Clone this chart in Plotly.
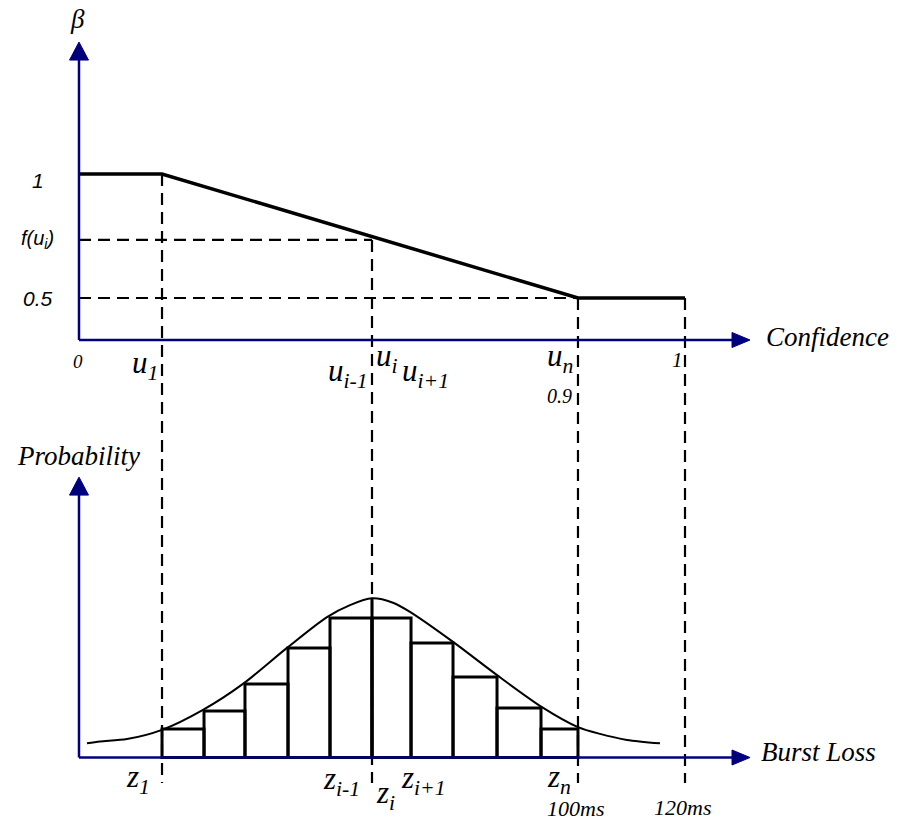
import plotly.graph_objects as go

# ---- data -------------------------------------------------------------
# marked confidence positions (normalised so that 0 .. 1 spans the axis)
u_1 = 0.137
u_i = 0.4835
u_n = 0.8234
conf_max = 1.0

# beta as a function of confidence: flat, linear drop, flat
beta_x = [0.0, u_1, u_n, conf_max]
beta_y = [1.0, 1.0, 0.5, 0.5]
beta_at_ui = 0.734

# histogram of burst loss (bin edges in the same normalised units)
bin_edges = [0.137, 0.2063, 0.2739, 0.3449, 0.4142, 0.4835,
             0.5479, 0.6172, 0.6898, 0.7624, 0.8234]
bin_heights = [0.071, 0.116, 0.184, 0.274, 0.349,
               0.349, 0.286, 0.201, 0.124, 0.071]

# bell-shaped probability envelope
curve_x = [0.0132, 0.0347, 0.0792, 0.137, 0.2046, 0.2706, 0.3432, 0.4092,
           0.4472, 0.4835, 0.5182, 0.5462, 0.6172, 0.6898, 0.764, 0.8234,
           0.8597, 0.9043, 0.9587]
curve_y = [0.0355, 0.040, 0.046, 0.069, 0.119, 0.184, 0.274, 0.351,
           0.381, 0.398, 0.387, 0.364, 0.289, 0.206, 0.126, 0.076,
           0.059, 0.044, 0.0355]
peak_prob = 0.398

# ---- layout constants ---------------------------------------------------
X_RANGE = [-0.13036, 1.35644]
B_RANGE = [-1.625, 1.70161]      # beta axis (upper panel)
P_RANGE = [-0.16875, 1.89375]    # probability axis (lower panel)

BETA_AXIS_BASE = 0.3306
BETA_AXIS_TIP = 1.532
X_AXIS_TIP = 1.1073
PROB_AXIS_TIP = 0.701
DASH_BOTTOM = -0.064             # in probability units

AXIS_BLUE = "#00007F"
SERIF = "Liberation Serif, 'Times New Roman', Times, serif"
SANS = "Liberation Sans, Arial, sans-serif"


def prob_to_beta(p):
    frac = (p - P_RANGE[0]) / (P_RANGE[1] - P_RANGE[0])
    return B_RANGE[0] + frac * (B_RANGE[1] - B_RANGE[0])


fig = go.Figure()

dash_style = dict(color="black", width=2.2, dash="12px,7px")

# dashed guide lines (upper panel coordinates)
dash_bottom_beta = prob_to_beta(DASH_BOTTOM)
for xv, top in [(u_1, beta_y[1]), (u_i, beta_at_ui), (u_n, beta_y[2]), (conf_max, beta_y[3])]:
    fig.add_trace(go.Scatter(x=[xv, xv], y=[top, dash_bottom_beta], mode="lines",
                             line=dash_style, hoverinfo="skip"))
fig.add_trace(go.Scatter(x=[0, u_i], y=[beta_at_ui, beta_at_ui], mode="lines",
                         line=dash_style, hoverinfo="skip"))
fig.add_trace(go.Scatter(x=[0, u_n], y=[beta_y[2], beta_y[2]], mode="lines",
                         line=dash_style, hoverinfo="skip"))

# beta profile
fig.add_trace(go.Scatter(x=beta_x, y=beta_y, mode="lines",
                         line=dict(color="black", width=3.5), hoverinfo="skip"))

# upper axes
fig.add_trace(go.Scatter(x=[0, 0], y=[BETA_AXIS_BASE, BETA_AXIS_TIP - 0.05], mode="lines",
                         line=dict(color=AXIS_BLUE, width=2.5), hoverinfo="skip"))
fig.add_trace(go.Scatter(x=[0, X_AXIS_TIP - 0.02], y=[BETA_AXIS_BASE, BETA_AXIS_BASE], mode="lines",
                         line=dict(color=AXIS_BLUE, width=2.5), hoverinfo="skip"))

# histogram bars (lower panel)
centers = [(a + b) / 2 for a, b in zip(bin_edges[:-1], bin_edges[1:])]
widths = [b - a for a, b in zip(bin_edges[:-1], bin_edges[1:])]
fig.add_trace(go.Bar(x=centers, y=bin_heights, width=widths, base=0, yaxis="y2",
                     marker=dict(color="rgba(0,0,0,0)", line=dict(color="black", width=3)),
                     hoverinfo="skip"))

# envelope curve
fig.add_trace(go.Scatter(x=curve_x, y=curve_y, yaxis="y2", mode="lines",
                         line=dict(color="black", width=2, shape="spline", smoothing=0.8),
                         hoverinfo="skip"))

# centre line from the peak down to the axis
fig.add_trace(go.Scatter(x=[u_i, u_i], y=[0, peak_prob], yaxis="y2", mode="lines",
                         line=dict(color="black", width=3), hoverinfo="skip"))

# lower axes
fig.add_trace(go.Scatter(x=[0, 0], y=[0, PROB_AXIS_TIP - 0.02], yaxis="y2", mode="lines",
                         line=dict(color=AXIS_BLUE, width=2.5), hoverinfo="skip"))
fig.add_trace(go.Scatter(x=[0, X_AXIS_TIP - 0.02], y=[0, 0], yaxis="y2", mode="lines",
                         line=dict(color=AXIS_BLUE, width=2.5), hoverinfo="skip"))

# arrow heads (pixel-sized paths anchored at the axis tips)
up_arrow = "M -9.5,-18 L 0,0 L 9.5,-18 Z"
right_arrow = "M -18,7.5 L 0,0 L -18,-7.5 Z"
shapes = []
for yref, xa, ya, path in [("y", 0, BETA_AXIS_TIP, up_arrow),
                           ("y", X_AXIS_TIP, BETA_AXIS_BASE, right_arrow),
                           ("y2", 0, PROB_AXIS_TIP, up_arrow),
                           ("y2", X_AXIS_TIP, 0, right_arrow)]:
    shapes.append(dict(type="path", xref="x", yref=yref, xsizemode="pixel", ysizemode="pixel",
                       xanchor=xa, yanchor=ya, path=path,
                       fillcolor=AXIS_BLUE, line=dict(color=AXIS_BLUE, width=1)))

annotations = []


def label(text, x, y, dx, dy, size, family=SERIF, yref="y", italic=True):
    annotations.append(dict(
        text=f"<i>{text}</i>" if italic else text,
        x=x, y=y, xref="x", yref=yref, xanchor="center", yanchor="middle",
        xshift=dx, yshift=dy, showarrow=False,
        font=dict(family=family, size=size, color="black")))


# upper panel labels
label("β", 0, BETA_AXIS_TIP, -2, 23, 27)
label("1", 0, beta_y[0], -41, -6, 21, SANS)
label("f(u<sub>i</sub>)", 0, beta_at_ui, -41.5, 0, 20, SANS)
label("0.5", 0, beta_y[2], -41.5, 0, 21, SANS)
label("0", 0, BETA_AXIS_BASE, -1, -21, 19)
label("u<sub>1</sub>", u_1, BETA_AXIS_BASE, -17.5, -25, 31)
label("u<sub>i-1</sub>", u_i, BETA_AXIS_BASE, -24.5, -33, 31)
label("u<sub>i</sub>", u_i, BETA_AXIS_BASE, 14.5, -18, 31)
label("u<sub>i+1</sub>", u_i, BETA_AXIS_BASE, 53, -33, 31)
label("u<sub>n</sub>", u_n, BETA_AXIS_BASE, -17.5, -18, 31)
label("0.9", u_n, BETA_AXIS_BASE, -18, -56, 20)
label("1", conf_max, BETA_AXIS_BASE, -8, -20, 21)
annotations.append(dict(text="<i>Confidence</i>", x=X_AXIS_TIP, y=BETA_AXIS_BASE, xref="x", yref="y",
                        xanchor="left", yanchor="middle", xshift=14, yshift=3, showarrow=False,
                        font=dict(family=SERIF, size=27, color="black")))

# lower panel labels
label("Probability", 0, PROB_AXIS_TIP, -1, 21, 27, yref="y2")
annotations.append(dict(text="<i>Burst Loss</i>", x=X_AXIS_TIP, y=0, xref="x", yref="y2",
                        xanchor="left", yanchor="middle", xshift=9, yshift=6, showarrow=False,
                        font=dict(family=SERIF, size=27, color="black")))
label("z<sub>1</sub>", u_1, 0, -24.5, -21, 31, yref="y2")
label("z<sub>i-1</sub>", u_i, 0, -31, -23, 31, yref="y2")
label("z<sub>i</sub>", u_i, 0, 13, -37, 31, yref="y2")
label("z<sub>i+1</sub>", u_i, 0, 51.5, -22, 31, yref="y2")
label("z<sub>n</sub>", u_n, 0, -18.5, -21, 31, yref="y2")
label("100ms", u_n, 0, -2, -51, 22, yref="y2")
label("120ms", conf_max, 0, -3, -50, 22, yref="y2")

fig.update_layout(
    width=901, height=825,
    margin=dict(l=0, r=0, t=0, b=0),
    paper_bgcolor="white", plot_bgcolor="white",
    showlegend=False, barmode="overlay",
    xaxis=dict(range=X_RANGE, visible=False, fixedrange=True),
    yaxis=dict(range=B_RANGE, visible=False, fixedrange=True),
    yaxis2=dict(range=P_RANGE, visible=False, overlaying="y", fixedrange=True),
    shapes=shapes,
    annotations=annotations,
)

fig.write_html("out.html", config=dict(displayModeBar=False))
